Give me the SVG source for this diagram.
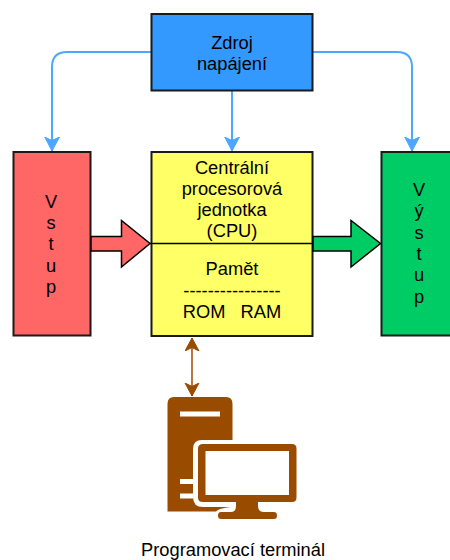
<svg xmlns="http://www.w3.org/2000/svg" width="450" height="560" viewBox="0 0 450 560">
<style>
text{font-family:"Liberation Sans",Arial,sans-serif;font-size:18.300px;fill:#000;text-anchor:middle}
.box{stroke:#1a1a1a;stroke-width:2}
.conn{fill:none;stroke:#4da6ff;stroke-width:2}
.blk{fill:#994c00}
</style>
<defs>
<marker id="ab" markerUnits="userSpaceOnUse" markerWidth="16" markerHeight="16" refX="14" refY="7.500" orient="auto"><path d="M0 0L14 7.500L0 14.800L3.500 7.500Z" fill="#4da6ff" stroke="#4da6ff"/></marker>
<marker id="bs" markerUnits="userSpaceOnUse" markerWidth="16" markerHeight="16" refX="13" refY="7.500" orient="auto-start-reverse"><path d="M0 0.500L13 7.500L0 14.500L3.500 7.500Z" fill="#994c00" stroke="#994c00"/></marker>
</defs>
<g id="connectors">
<path class="conn" marker-end="url(#ab)" d="M151 52H67Q52 52 52 67V151"/>
<path class="conn" marker-end="url(#ab)" d="M232 91V151"/>
<path class="conn" marker-end="url(#ab)" d="M313 52H397Q412 52 412 67V151"/>
<path d="M192 338V396" fill="none" stroke="#994c00" stroke-width="1.500" marker-start="url(#bs)" marker-end="url(#bs)"/>
</g>
<g id="zdroj"><rect class="box" x="151.500" y="14" width="161" height="76.500" fill="#3399ff"/><text x="232" y="49">Zdroj</text><text x="232" y="70">napájení</text></g>
<g id="vstup"><rect class="box" x="13.500" y="152" width="77" height="183.500" fill="#ff6666"/>
<text x="51" y="208">V</text><text x="51" y="229">s</text><text x="51" y="250">t</text><text x="51" y="272">u</text><text x="51" y="293">p</text></g>
<g id="cpu"><rect class="box" x="151.500" y="152" width="161" height="184" fill="#ffff66"/><path d="M150 243.500H314" stroke="#000" stroke-width="1.500"/>
<text x="232" y="174">Centrální</text><text x="232" y="195">procesorová</text><text x="232" y="216">jednotka</text><text x="232" y="237">(CPU)</text><text x="232" y="275">Pamět</text><text x="232" y="297">----------------</text><text x="232" y="318" xml:space="preserve">ROM   RAM</text></g>
<g id="vystup"><rect class="box" x="381.500" y="152" width="78" height="183.500" fill="#00cc66"/>
<text x="419" y="196">V</text><text x="419" y="217">ý</text><text x="419" y="239">s</text><text x="419" y="260">t</text><text x="419" y="281">u</text><text x="419" y="303">p</text></g>
<g id="sipka-vstup"><path d="M91 236.500H121.500V220.500L150 243.500L121.500 267V251H91Z" fill="#ff6666" stroke="#000" stroke-width="1.500"/></g>
<g id="sipka-vystup"><path d="M313 236.500H351V220.500L380.500 243.500L351 267V251H313Z" fill="#00cc66" stroke="#000" stroke-width="1.500"/></g>
<g id="terminal">
<path class="blk" d="M167.500 404Q167.500 397 174 397H226Q232.500 397 232.500 404V440H202Q193 440 193 449V497Q193 507 203 507H231Q219 508 216 511.500H167.500Z"/>
<path d="M180 411.500H220V416.500H180ZM180 479H193V484H180ZM180 493.500H193V498.500H180Z" fill="#fff"/>
<path class="blk" fill-rule="evenodd" d="M203 444H292Q296.500 444 296.500 448.500V497.500Q296.500 502 292 502H258V506Q258 512 264 512H274Q277 512 277 515.500Q277 519 274 519H221Q218 519 218 515.500Q218 512 221 512H231Q236 512 236 506V502H203Q198 502 198 497.500V448.500Q198 444 203 444ZM205.500 451V495H289V451Z"/>
<text x="233" y="556">Programovací terminál</text>
</g>
</svg>
